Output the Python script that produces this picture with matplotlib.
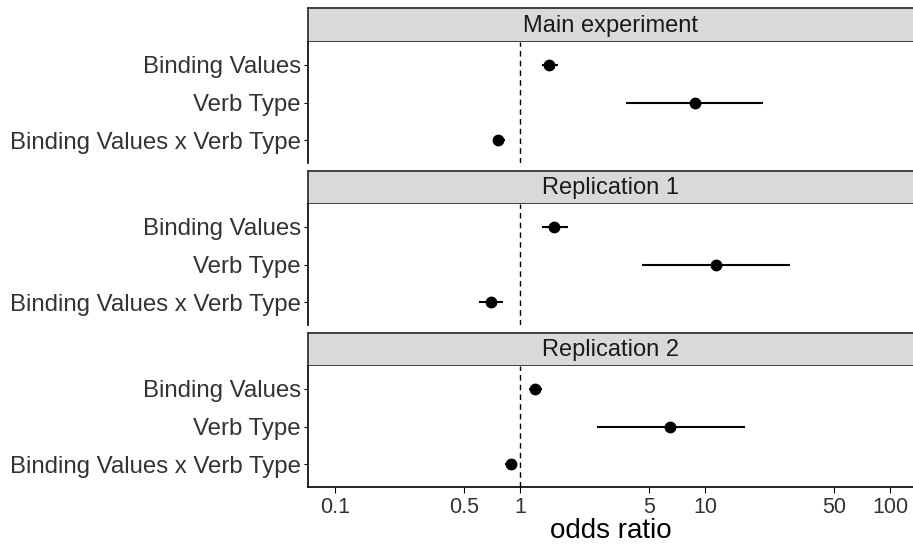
import matplotlib.pyplot as plt
import numpy as np

plt.rcParams['font.family'] = ['Liberation Sans', 'DejaVu Sans']

panels = ['Main experiment', 'Replication 1', 'Replication 2']
terms = ['Binding Values', 'Verb Type', 'Binding Values x Verb Type']

# odds ratio, lower and upper CI, one row per panel, order as terms
odds = [[1.44, 8.8, 0.76],
        [1.53, 11.4, 0.70],
        [1.20, 6.5, 0.89]]
lower = [[1.32, 3.75, 0.71],
         [1.31, 4.56, 0.60],
         [1.12, 2.60, 0.83]]
upper = [[1.61, 20.6, 0.83],
         [1.81, 28.8, 0.81],
         [1.31, 16.5, 0.95]]

x_ticks = [0.1, 0.5, 1, 5, 10, 50, 100]
x_labels = ['0.1', '0.5', '1', '5', '10', '50', '100']

W, H = 913, 546
fig = plt.figure(figsize=(W / 100, H / 100), dpi=100)

left = 308
# (strip top, strip bottom, panel bottom) in pixels from top
layout = [(8, 42, 163), (171, 204, 325), (333, 366, 487)]

for i, name in enumerate(panels):
    st, sb, pb = layout[i]
    strip = fig.add_axes([left / W, 1 - sb / H, 1 - left / W + 0.01, (sb - st) / H])
    strip.set_facecolor('#d9d9d9')
    strip.set_xticks([])
    strip.set_yticks([])
    for s in strip.spines.values():
        s.set_linewidth(1.3)
        s.set_color('#333333')
    strip.text(0.5 * (1 - 0.01 / (1 - left / W + 0.01)), 0.47, name, ha='center', va='center',
               fontsize=17, color='#1a1a1a', transform=strip.transAxes)

    ax = fig.add_axes([left / W, 1 - pb / H, 1 - left / W, (pb - sb) / H])
    y = np.arange(len(terms))[::-1] + 1
    ax.hlines(y, lower[i], upper[i], color='black', lw=1.5)
    ax.plot(odds[i], y, 'o', color='black', ms=7.5)
    ax.axvline(1, color='black', ls=(0, (4, 3)), lw=1)
    ax.set_xscale('log')
    ax.set_xlim(0.0714, 133)
    ax.set_ylim(0.4, 3.6)
    ax.set_yticks(y)
    ax.set_yticklabels(terms, fontsize=17.3, color='#333333')
    ax.minorticks_off()
    ax.tick_params(axis='y', length=3, width=0.8, pad=2)
    for s in ['top', 'right']:
        ax.spines[s].set_visible(False)
    ax.spines['left'].set_linewidth(1.2)
    if i < 2:
        ax.spines['bottom'].set_visible(False)
        ax.set_xticks([])
    else:
        ax.spines['bottom'].set_linewidth(1.2)
        ax.set_xticks(x_ticks)
        ax.set_xticklabels(x_labels, fontsize=15.5, color='#333333')
        ax.tick_params(axis='x', length=4, width=0.8, pad=3)
        ax.set_xlabel('odds ratio', fontsize=20, labelpad=0)

fig.savefig('out.png', dpi=100)
